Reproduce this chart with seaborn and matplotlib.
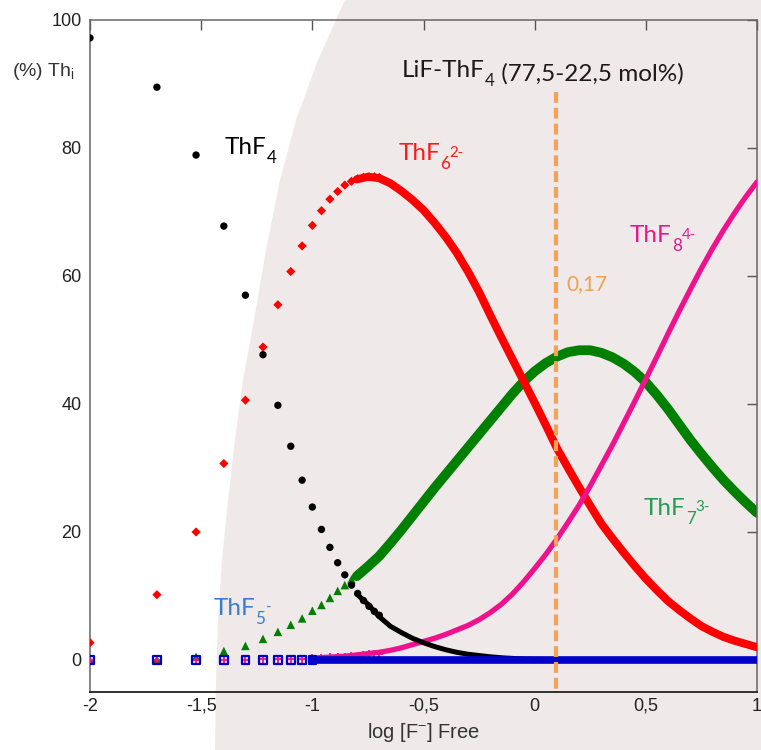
import matplotlib
matplotlib.use("Agg")
import matplotlib.pyplot as plt
import seaborn as sns
from matplotlib.patches import Polygon

# log [F-] positions of the individual (sparse) markers on the left
logf_grid = [-2.0, -1.699, -1.523, -1.398, -1.301, -1.222, -1.155, -1.097, -1.046, -1.0,
             -0.959, -0.921, -0.886, -0.854, -0.824, -0.796, -0.770, -0.745, -0.721, -0.699]

# % of Th for each species at those positions
thf4_pts = [97.2, 89.5, 78.9, 67.8, 57.0, 47.7, 39.8, 33.4, 28.1, 23.9,
            20.4, 17.6, 15.2, 13.3, 11.7, 10.4, 9.3, 8.4, 7.6, 7.0]
thf5_pts = [0.0, 0.0, 0.0, 0.0, 0.0, 0.0, 0.0, 0.0, 0.0, 0.0]
thf6_pts = [2.7, 10.2, 20.0, 30.7, 40.6, 48.9, 55.5, 60.7, 64.7, 67.9,
            70.2, 72.0, 73.2, 74.2, 74.8, 75.2, 75.4, 75.5, 75.5, 75.4]
thf7_pts = [0.0, 0.1, 0.5, 1.4, 2.2, 3.3, 4.4, 5.5, 6.5, 7.7,
            8.6, 9.7, 10.8, 11.7, 12.6, 13.5, 14.3, 15.1, 15.8, 16.5]
thf8_pts = [0.0, 0.0, 0.0, 0.0, 0.0, 0.1, 0.1, 0.1, 0.2, 0.3,
            0.3, 0.4, 0.5, 0.5, 0.6, 0.7, 0.8, 0.9, 0.9, 1.0]

# dense part of the curves (markers merge into a thick band)
logf_dense = [-0.80, -0.75, -0.70, -0.65, -0.60, -0.55, -0.50, -0.45, -0.40, -0.35,
              -0.30, -0.25, -0.20, -0.15, -0.10, -0.05, 0.00, 0.05, 0.10, 0.15,
              0.20, 0.25, 0.30, 0.35, 0.40, 0.45, 0.50, 0.55, 0.60, 0.65,
              0.70, 0.75, 0.80, 0.85, 0.90, 0.95, 1.00]
thf4_dense = [10.3, 8.7, 6.8, 5.3, 4.3, 3.4, 2.7, 2.1, 1.6, 1.2,
              0.9, 0.7, 0.5, 0.35, 0.25, 0.15, 0.1, 0.07, 0.05, 0.03,
              0.02, 0.01, 0.01, 0.0, 0.0, 0.0, 0.0, 0.0, 0.0, 0.0,
              0.0, 0.0, 0.0, 0.0, 0.0, 0.0, 0.0]
thf6_dense = [75.1, 75.5, 75.3, 74.5, 73.3, 71.9, 70.3, 68.3, 66.1, 63.6,
              60.7, 57.5, 53.9, 50.4, 47.0, 43.6, 40.2, 36.7, 33.1, 30.0,
              27.0, 24.1, 21.3, 19.0, 16.8, 14.7, 12.7, 10.9, 9.2, 7.8,
              6.5, 5.3, 4.4, 3.6, 3.0, 2.5, 2.0]
thf7_dense = [13.1, 14.6, 16.2, 18.2, 20.3, 22.5, 24.7, 26.9, 29.0, 31.1,
              33.2, 35.3, 37.4, 39.5, 41.6, 43.5, 45.1, 46.4, 47.4, 48.1,
              48.4, 48.4, 48.0, 47.3, 46.3, 45.0, 43.4, 41.4, 39.2, 36.8,
              34.4, 32.2, 30.1, 28.1, 26.3, 24.6, 23.0]

logf_pink = [-1.00, -0.95, -0.90, -0.85] + logf_dense
thf8_dense = [0.3, 0.4, 0.5, 0.6,
              0.8, 1.0, 1.2, 1.5, 1.9, 2.4, 2.9, 3.4, 4.0, 4.7,
              5.4, 6.3, 7.4, 8.7, 10.3, 12.2, 14.3, 16.5, 18.9, 21.5,
              24.2, 27.2, 30.4, 33.6, 37.0, 40.4, 43.9, 47.4, 51.0, 54.5,
              57.9, 61.2, 64.3, 67.2, 69.9, 72.4, 74.7]

logf_blue = [-1.0, -0.5, 0.0, 0.5, 1.0]
thf5_dense = [0.0, 0.0, 0.0, 0.0, 0.0]

x_ticks = [-2, -1.5, -1, -0.5, 0, 0.5, 1]
x_ticklabels = ["-2", "-1,5", "-1", "-0,5", "0", "0,5", "1"]
y_ticks = [0, 20, 40, 60, 80, 100]
y_ticklabels = ["0", "20", "40", "60", "80", "100"]

log_f_marked = 0.095

sns.set_theme(style="white")
plt.rcParams["font.family"] = ["Liberation Sans", "DejaVu Sans"]

W, H = 761, 750
fig = plt.figure(figsize=(W / 100, H / 100), dpi=100)
fig.patch.set_facecolor("white")

# slide-like shaded background with a curved left edge (pixel outline)
edge_px = [(345, 0), (318, 60), (296, 120), (280, 180), (266, 250), (254, 320),
           (243, 380), (235, 440), (228, 500), (222, 560), (218, 620), (216, 680), (215, 750)]
outline = [(px / W, 1 - py / H) for px, py in edge_px] + [(1, 0), (1, 1)]
fig.add_artist(Polygon(outline, closed=True, transform=fig.transFigure,
                       facecolor="#efe9ea", edgecolor="none", zorder=-1))

ax = fig.add_axes([90 / W, 1 - 692 / H, 667 / W, 672 / H])
ax.set_facecolor("none")

GREEN, RED, PINK, BLACK, BLUE = "#008000", "#ff0000", "#f0128c", "#000000", "#0000c8"

# ThF7 3-
sns.lineplot(x=logf_dense, y=thf7_dense, color=GREEN, linewidth=7, ax=ax, zorder=2,
             solid_capstyle="round")
sns.scatterplot(x=logf_grid, y=thf7_pts, marker="^", s=38, color=GREEN, edgecolor="none",
                ax=ax, zorder=2)
# ThF6 2-
sns.lineplot(x=logf_dense, y=thf6_dense, color=RED, linewidth=5.8, ax=ax, zorder=3,
             solid_capstyle="round")
sns.scatterplot(x=logf_grid, y=thf6_pts, marker="D", s=22, color=RED, edgecolor="none",
                ax=ax, zorder=3)
# ThF8 4-
sns.lineplot(x=logf_pink, y=thf8_dense, color=PINK, linewidth=3.8, ax=ax, zorder=4,
             solid_capstyle="round")
sns.scatterplot(x=logf_grid, y=thf8_pts, marker="+", s=30, color=PINK, linewidth=1.3,
                ax=ax, zorder=4)
# ThF4
sns.lineplot(x=logf_dense, y=thf4_dense, color=BLACK, linewidth=3.6, ax=ax, zorder=5,
             solid_capstyle="round")
sns.scatterplot(x=logf_grid, y=thf4_pts, marker="o", s=28, color=BLACK, edgecolor="none",
                ax=ax, zorder=5)
# ThF5 -
sns.lineplot(x=logf_blue, y=thf5_dense, color=BLUE, linewidth=5.5, ax=ax, zorder=6)
sns.scatterplot(x=logf_grid[:10], y=thf5_pts, marker="s", s=30, color="none",
                edgecolor=BLUE, linewidth=1.6, ax=ax, zorder=6)

# marked composition
ax.plot([log_f_marked, log_f_marked], [88.7, -5], color="#f4a259", linewidth=3,
        dashes=(2.6, 1.2), zorder=7)

ax.set_xlim(-2, 1)
ax.set_ylim(-5, 100)
ax.set_xticks(x_ticks)
ax.set_xticklabels(x_ticklabels)
ax.set_yticks(y_ticks)
ax.set_yticklabels(y_ticklabels)
ax.tick_params(direction="in", length=7, width=1, top=True, right=True,
               labelsize=13, labelcolor="#222222", color="#555555")
ax.tick_params(axis="x", pad=4)
ax.tick_params(axis="y", pad=6)
for side in ["left", "top", "right"]:
    ax.spines[side].set_color("#666666")
    ax.spines[side].set_linewidth(1.1)
ax.spines["bottom"].set_color("#222222")
ax.spines["bottom"].set_linewidth(1.3)
ax.set_ylabel("")

ax.set_xlabel("log [F$\\mathregular{^{-}}$] Free", fontsize=14.5, color="#333333", labelpad=5)
fig.text(12 / W, 1 - 72 / H, "(%) Th$\\mathregular{_i}$", fontsize=14, color="#333333",
         va="center", ha="left")

LBL = 17.5
FAM = ["Lato", "DejaVu Sans"]


def chem_label(x, y, sub, sup, color):
    base = ax.text(x, y, "ThF", color=color, fontsize=LBL, family=FAM, va="baseline",
                   ha="left", zorder=8)
    low = ax.annotate(sub, xy=(1, 0), xycoords=base, xytext=(0.3, -3.5),
                      textcoords="offset points", color=color, fontsize=LBL * 0.7,
                      family=FAM, va="baseline", ha="left", zorder=8)
    if sup:
        ax.annotate(sup, xy=(1, 1), xycoords=(low, base), xytext=(-0.3, -2),
                    textcoords="offset points", color=color, fontsize=LBL * 0.62,
                    family=FAM, va="top", ha="left", zorder=8)


ax.text(-0.598, 91.1, "LiF-ThF", color="#1a1a1a", fontsize=LBL, family=FAM,
        va="baseline", ha="left", zorder=8)
title_base = ax.texts[-1]
title_sub = ax.annotate("4", xy=(1, 0), xycoords=title_base, xytext=(0.3, -3.5),
                        textcoords="offset points", color="#1a1a1a", fontsize=LBL * 0.7,
                        family=FAM, va="baseline", ha="left", zorder=8)
ax.annotate(" (77,5-22,5 mol%)", xy=(1, 0), xycoords=(title_sub, title_base),
            xytext=(0, 0), textcoords="offset points", color="#1a1a1a", fontsize=LBL,
            family=FAM, va="baseline", ha="left", zorder=8)

chem_label(-1.393, 79.1, "4", "", BLACK)
chem_label(-0.614, 78.1, "6", "2-", "#ff1a1a")
chem_label(0.429, 65.3, "8", "4-", "#e8168c")
chem_label(0.492, 22.7, "7", "3-", "#20a050")
chem_label(-1.445, 7.0, "5", "-", "#3a7dc9")
ax.text(0.141, 57.8, "0,17", color="#f0a050", family=FAM, fontsize=15,
        va="baseline", ha="left", zorder=8)

fig.savefig("out.png", dpi=100)
